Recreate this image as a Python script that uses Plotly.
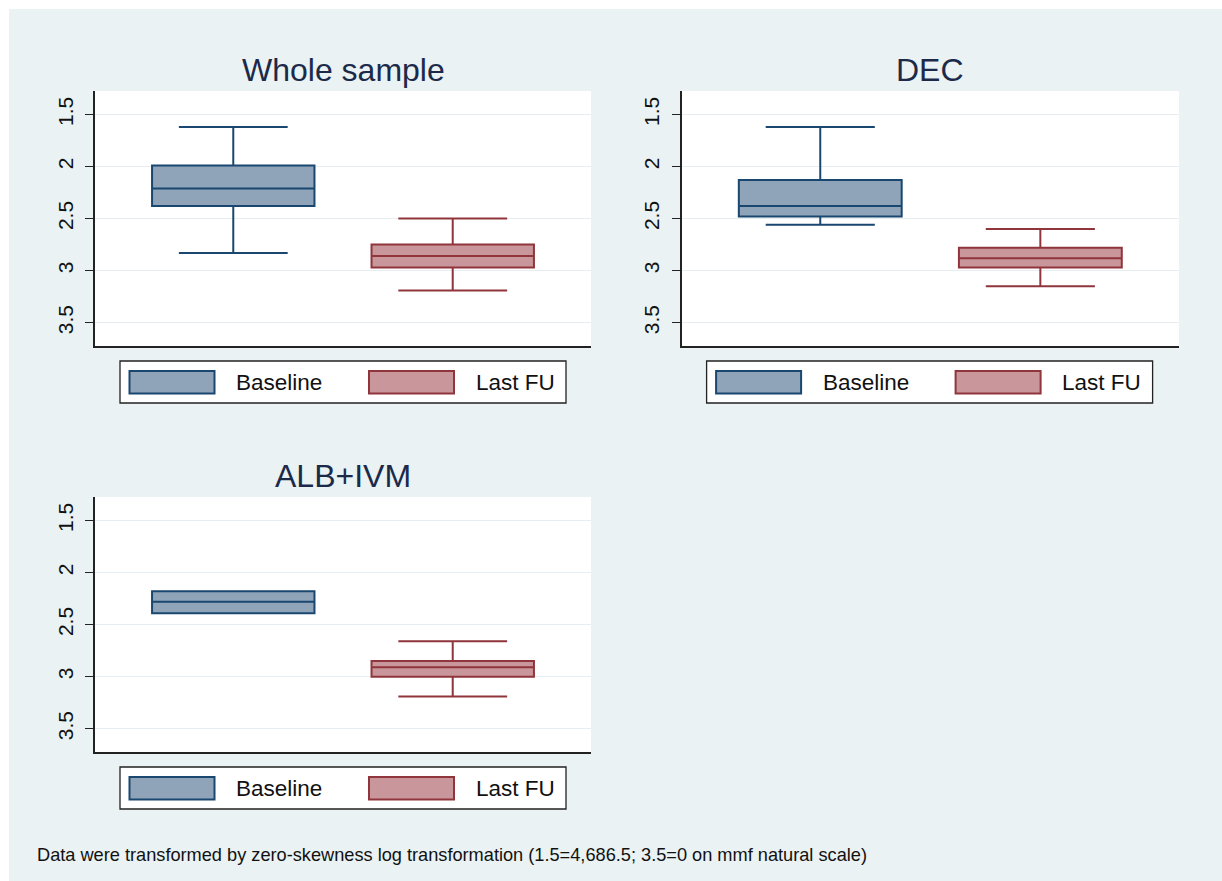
import plotly.graph_objects as go

W, H = 1222, 881

# ---- data ----
panels = ["Whole sample", "DEC", "ALB+IVM"]
groups = ["Baseline", "Last FU"]
# per panel: [Baseline, Last FU]
upper_whisker = [[1.62, 2.50], [1.62, 2.60], [2.18, 2.66]]
q1_vals       = [[1.99, 2.75], [2.13, 2.78], [2.18, 2.85]]
median_vals   = [[2.21, 2.86], [2.38, 2.88], [2.28, 2.91]]
q3_vals       = [[2.38, 2.97], [2.48, 2.97], [2.39, 3.00]]
lower_whisker = [[2.83, 3.19], [2.56, 3.15], [2.39, 3.19]]
tick_vals = [1.5, 2, 2.5, 3, 3.5]
tick_text = ["1.5", "2", "2.5", "3", "3.5"]
footnote = "Data were transformed by zero-skewness log transformation (1.5=4,686.5; 3.5=0 on mmf natural scale)"

# ---- styling ----
FONT = "Liberation Sans, Arial, Helvetica, sans-serif"
fills = ["#8FA4B8", "#C9979B"]
lines = ["#1A476F", "#90353B"]
BG = "#EAF2F3"

# panel pixel boxes in page coordinates: (left, top, right, bottom)
boxes_px = [(95, 91, 591, 346), (681.6, 91, 1179, 346), (95, 497, 591, 752)]

def px_x(v):
    return v / W

def px_y(v):
    return 1 - v / H

fig = go.Figure()

for i, name in enumerate(panels):
    sfx = "" if i == 0 else str(i + 1)
    for j, g in enumerate(groups):
        fig.add_trace(go.Box(
            x=[j],
            q1=[q1_vals[i][j]],
            median=[median_vals[i][j]],
            q3=[q3_vals[i][j]],
            lowerfence=[upper_whisker[i][j]],
            upperfence=[lower_whisker[i][j]],
            name=g,
            width=0.74,
            whiskerwidth=0.67,
            fillcolor=fills[j],
            line=dict(color=lines[j], width=2),
            showlegend=False,
            boxpoints=False,
            xaxis="x" + sfx,
            yaxis="y" + sfx,
        ))

layout = dict(
    width=W, height=H,
    margin=dict(l=0, r=0, t=0, b=0),
    paper_bgcolor=BG,
    plot_bgcolor="white",
    boxmode="overlay",
    showlegend=False,
    font=dict(family=FONT, color="#111111"),
)

# thin white frame on the top and left edges
shapes = [
    dict(type="rect", xref="paper", yref="paper", x0=0, x1=1.0, y0=px_y(9), y1=1.0,
         fillcolor="white", line=dict(width=0), layer="below"),
    dict(type="rect", xref="paper", yref="paper", x0=0, x1=px_x(9), y0=0, y1=1.0,
         fillcolor="white", line=dict(width=0), layer="below"),
]
annotations = []

for i, name in enumerate(panels):
    sfx = "" if i == 0 else str(i + 1)
    L, T, R, B = boxes_px[i]
    layout["xaxis" + sfx] = dict(
        domain=[px_x(L), px_x(R)], range=[-0.63, 1.63],
        anchor="y" + sfx, showticklabels=False, ticks="", showgrid=False,
        zeroline=False, showline=True, linecolor="#222222", linewidth=1.5,
        fixedrange=True,
    )
    layout["yaxis" + sfx] = dict(
        domain=[px_y(B), px_y(T)], range=[3.724, 1.274],
        anchor="x" + sfx, tickvals=tick_vals, ticktext=tick_text,
        tickangle=-90, ticks="outside", ticklen=8, tickwidth=1.2,
        tickcolor="#222222", showgrid=True, gridcolor="#E6EEF1", gridwidth=1.2,
        zeroline=False, showline=True, linecolor="#222222", linewidth=1.5,
        tickfont=dict(size=21, color="#111111", family=FONT), ticklabelstandoff=4,
        fixedrange=True,
    )
    # title
    annotations.append(dict(
        text=name, xref="paper", yref="paper", x=px_x((L + R) / 2),
        y=px_y(T - 21), xanchor="center", yanchor="middle", showarrow=False,
        font=dict(size=32, color="#1C2A4A", family=FONT),
    ))
    # legend box
    lt = T + 270
    shapes.append(dict(type="rect", xref="paper", yref="paper",
                       x0=px_x(L + 25), x1=px_x(L + 471), y0=px_y(lt + 42), y1=px_y(lt),
                       fillcolor="white", line=dict(color="#222222", width=1.3)))
    key_x = [(34.5, 119.5), (274, 359)]
    txt_x = [139, 378.5]
    for j, g in enumerate(groups):
        shapes.append(dict(type="rect", xref="paper", yref="paper",
                           x0=px_x(L + key_x[j][0]), x1=px_x(L + key_x[j][1]),
                           y0=px_y(lt + 32.5), y1=px_y(lt + 10),
                           fillcolor=fills[j], line=dict(color=lines[j], width=2)))
        annotations.append(dict(
            text=g, xref="paper", yref="paper", x=px_x(L + txt_x[j]),
            y=px_y(lt + 21.5), xanchor="left", yanchor="middle", showarrow=False,
            font=dict(size=22.5, color="#111111", family=FONT),
        ))

annotations.append(dict(
    text=footnote, xref="paper", yref="paper", x=px_x(35), y=px_y(855),
    xanchor="left", yanchor="middle", showarrow=False,
    font=dict(size=18.2, color="#111111", family=FONT),
))

layout["shapes"] = shapes
layout["annotations"] = annotations
fig.update_layout(**layout)
fig.write_html(
    "out.html",
    config={"displayModeBar": False},
    post_script=(
        "document.body.style.margin='0';"
        "document.body.style.overflow='hidden';"
        "document.body.style.background='" + BG + "';"
        "document.documentElement.style.background='" + BG + "';"
    ),
)
